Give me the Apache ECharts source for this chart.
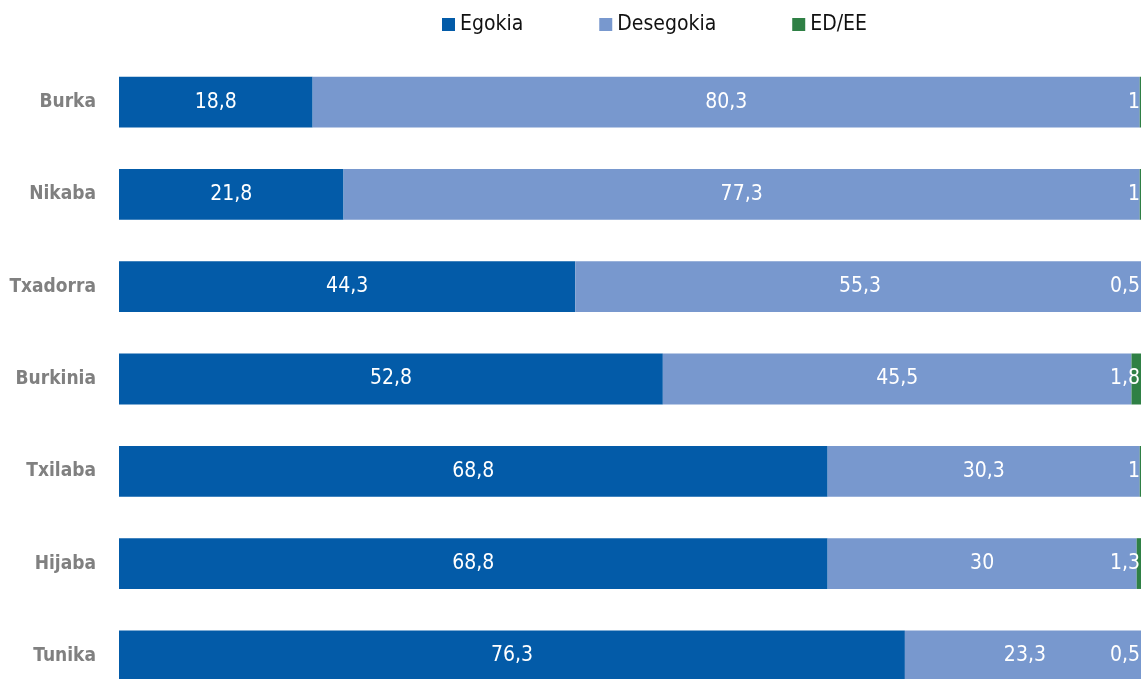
<!DOCTYPE html>
<html>
<head>
<meta charset="utf-8">
<script src="https://cdn.jsdelivr.net/npm/echarts@6/dist/echarts.min.js"></script>
<style>
  html, body { margin: 0; padding: 0; background: #fff; }
  #grafico { width: 1141px; height: 679px; }
</style>
</head>
<body>
<div id="grafico"></div>
<script>
var categories = ['Burka', 'Nikaba', 'Txadorra', 'Burkinia', 'Txilaba', 'Hijaba', 'Tunika'];
var egokia = [18.8, 21.8, 44.3, 52.8, 68.8, 68.8, 76.3];
var desegokia = [80.3, 77.3, 55.3, 45.5, 30.3, 30, 23.3];
var edee = [1, 1, 0.5, 1.8, 1, 1.3, 0.5];

// narrow face: ask the canvas for the condensed width of DejaVu Sans
var fontFam = "'DejaVu Sans', sans-serif";
var narrow = 'condensed';

var chartDom = document.getElementById('grafico');
var myChart = echarts.init(chartDom);
var option;

function comma(p) {
  return String(p.value).replace('.', ',');
}

function valueLabel(pos) {
  return {
    show: true,
    position: pos,
    color: '#fff',
    fontFamily: fontFam,
    fontStyle: narrow,
    fontSize: 21,
    formatter: comma
  };
}

option = {
  animation: false,
  textStyle: { fontFamily: fontFam },
  color: ['#035ba8', '#7898ce', '#2f8045'],
  legend: {
    top: 9,
    left: 437,
    itemWidth: 13,
    itemHeight: 13,
    itemGap: 76,
    icon: 'rect',
    textStyle: { fontFamily: fontFam, fontStyle: narrow, fontSize: 21, color: '#111' },
    data: ['Egokia', 'Desegokia', 'ED/EE']
  },
  grid: {
    left: 119,
    right: -8,
    top: 56,
    bottom: -23,
    outerBoundsMode: 'none'
  },
  xAxis: {
    type: 'value',
    min: 0,
    max: 100,
    show: false
  },
  yAxis: {
    type: 'category',
    inverse: true,
    data: categories,
    axisLine: { show: false },
    axisTick: { show: false },
    axisLabel: {
      margin: 23,
      fontFamily: fontFam,
      fontStyle: narrow,
      fontSize: 19,
      fontWeight: 'bold',
      color: '#808080'
    }
  },
  series: [
    {
      name: 'Egokia',
      type: 'bar',
      stack: 'total',
      barWidth: '55%',
      data: egokia,
      label: valueLabel('inside')
    },
    {
      name: 'Desegokia',
      type: 'bar',
      stack: 'total',
      barWidth: '55%',
      data: desegokia,
      label: valueLabel('inside')
    },
    {
      name: 'ED/EE',
      type: 'bar',
      stack: 'total',
      barWidth: '55%',
      data: edee,
      label: Object.assign(valueLabel('insideRight'), { distance: 0, offset: [-9, 0] })
    }
  ]
};

option && myChart.setOption(option);
</script>
</body>
</html>
